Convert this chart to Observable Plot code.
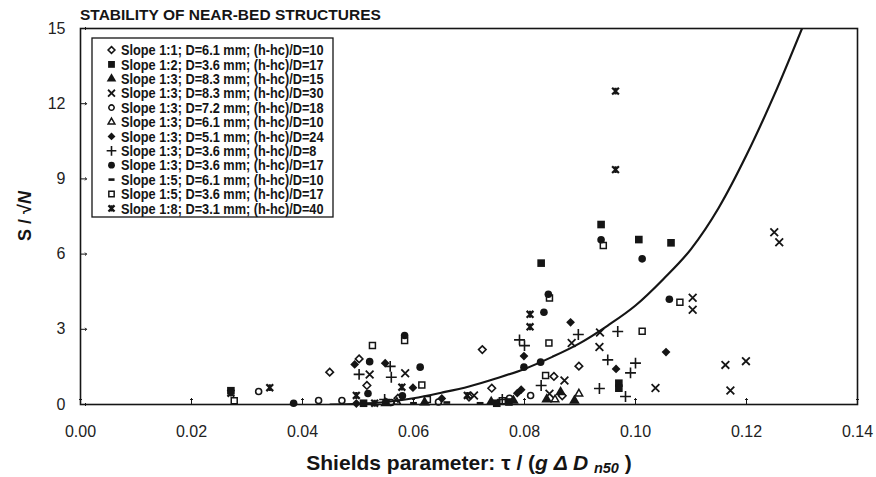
<!DOCTYPE html>
<html><head><meta charset="utf-8">
<script src="https://cdn.jsdelivr.net/npm/d3@7"></script>
<script src="https://cdn.jsdelivr.net/npm/@observablehq/plot@0.6"></script>
<style>
body{margin:0;background:#fff;}
#chart{position:relative;width:876px;height:477px;}
</style></head><body><div id="chart"></div>
<script>
// ---------- data ----------
const seriesLabels = [
  "Slope 1:1; D=6.1 mm; (h-hc)/D=10",
  "Slope 1:2; D=3.6 mm; (h-hc)/D=17",
  "Slope 1:3; D=8.3 mm; (h-hc)/D=15",
  "Slope 1:3; D=8.3 mm; (h-hc)/D=30",
  "Slope 1:3; D=7.2 mm; (h-hc)/D=18",
  "Slope 1:3; D=6.1 mm; (h-hc)/D=10",
  "Slope 1:3; D=5.1 mm; (h-hc)/D=24",
  "Slope 1:3; D=3.6 mm; (h-hc)/D=8",
  "Slope 1:3; D=3.6 mm; (h-hc)/D=17",
  "Slope 1:5; D=6.1 mm; (h-hc)/D=10",
  "Slope 1:5; D=3.6 mm; (h-hc)/D=17",
  "Slope 1:8; D=3.1 mm; (h-hc)/D=40"
];
// open diamond
const s1x = [0.0449,0.0502,0.0516,0.0724,0.0741,0.0853,0.0898,0.0572,0.0700,0.0868];
const s1y = [1.29,1.82,0.76,2.19,0.65,1.12,1.53,0.25,0.30,0.35];
// filled square
const s2x = [0.0271,0.0830,0.0938,0.1006,0.1064,0.0970,0.0970,0.0510,0.0750,0.0772];
const s2y = [0.55,5.64,7.18,6.58,6.45,0.85,0.65,0.05,0.05,0.10];
// filled triangle
const s3x = [0.0865,0.0740,0.0780,0.0840,0.0890,0.0550,0.0620];
const s3y = [0.49,0.10,0.15,0.20,0.15,0.05,0.08];
// x cross
const s4x = [0.0521,0.0585,0.0709,0.0845,0.0872,0.0885,0.0935,0.0936,0.1036,0.1103,0.1103,0.1162,0.1171,0.1199,0.1250,0.1259];
const s4y = [1.20,1.25,0.36,0.43,0.96,2.45,2.29,2.87,0.66,4.26,3.78,1.58,0.56,1.73,6.87,6.47];
// open circle
const s5x = [0.0321,0.0429,0.0471,0.0645,0.0773,0.0811,0.0560];
const s5y = [0.52,0.16,0.16,0.10,0.25,0.36,0.08];
// open triangle
const s6x = [0.0898,0.0855,0.0570];
const s6y = [0.43,0.20,0.10];
// filled diamond
const s7x = [0.0494,0.0549,0.0599,0.0651,0.0787,0.0794,0.0799,0.0883,0.0965,0.1055,0.0497];
const s7y = [1.60,1.65,0.67,0.24,0.45,0.59,1.93,3.28,1.42,2.09,0.04];
// plus
const s8x = [0.0502,0.0558,0.0560,0.0791,0.0800,0.0830,0.0897,0.0935,0.0950,0.0968,0.0982,0.0991,0.1000,0.0548,0.0760];
const s8y = [1.20,1.52,1.09,2.58,2.35,0.76,2.79,0.64,1.78,2.91,0.32,1.26,1.65,0.20,0.20];
// filled circle
const s9x = [0.0384,0.0518,0.0521,0.0584,0.0612,0.0799,0.0829,0.0835,0.0843,0.0938,0.1012,0.1061,0.0550,0.0580];
const s9y = [0.05,0.44,1.71,2.75,1.49,1.49,1.69,3.68,4.40,6.57,5.81,4.20,0.10,0.35];
// dash
const s10x = [0.0600,0.0660,0.0720];
const s10y = [0.05,0.08,0.05];
// open square
const s11x = [0.0277,0.0526,0.0584,0.0615,0.0760,0.0838,0.0844,0.0845,0.0942,0.1012,0.1080,0.0625];
const s11y = [0.15,2.35,2.55,0.78,0.15,1.16,2.45,4.25,6.34,2.92,4.08,0.20];
// bowtie star
const s12x = [0.0271,0.0341,0.0497,0.0579,0.0697,0.0810,0.0810,0.0964,0.0964,0.0530];
const s12y = [0.45,0.67,0.36,0.69,0.36,3.60,3.10,9.37,12.50,0.05];

// fitted curve as drawn in the figure
const curveX = [0.045,0.050,0.055,0.060,0.065,0.070,0.075,0.080,0.085,0.090,0.095,0.100,0.105,0.110,0.115,0.120,0.125,0.130];
const curveY = [0.00,0.03,0.10,0.25,0.47,0.72,1.05,1.42,1.90,2.45,3.15,3.95,5.00,6.20,7.85,9.95,12.35,15.00];

const xTicks = [0,0.02,0.04,0.06,0.08,0.10,0.12,0.14];
const yTicks = [0,3,6,9,12,15];

// ---------- symbols ----------
const ink = "#151515";
const bowtie = {draw(ctx, size){const r=Math.sqrt(size/Math.PI);ctx.moveTo(-r,-r);ctx.lineTo(r,r);ctx.moveTo(r,-r);ctx.lineTo(-r,r);ctx.moveTo(0,-r);ctx.lineTo(0,r);}};
const dash = {draw(ctx, size){const r=Math.sqrt(size/Math.PI);ctx.moveTo(-r,0);ctx.lineTo(r,0);}};
const rhomb = {draw(ctx, size){const r=Math.sqrt(size/Math.PI)*1.1;ctx.moveTo(0,-r);ctx.lineTo(r,0);ctx.lineTo(0,r);ctx.lineTo(-r,0);ctx.closePath();}};
const styles = [
  {symbol:"diamond2", fill:"none", stroke:ink, strokeWidth:1.6, r:3.4},
  {symbol:"square", fill:ink, r:4.3},
  {symbol:"triangle", fill:ink, r:4.0},
  {symbol:"times", fill:"none", stroke:ink, strokeWidth:1.8, r:3.6},
  {symbol:"circle", fill:"none", stroke:ink, strokeWidth:1.6, r:3.0},
  {symbol:"triangle2", fill:"none", stroke:ink, strokeWidth:1.5, r:3.6},
  {symbol:rhomb, fill:ink, r:4.0},
  {symbol:"plus", fill:"none", stroke:ink, strokeWidth:1.6, r:3.6},
  {symbol:"circle", fill:ink, r:3.8},
  {symbol:dash, fill:"none", stroke:ink, strokeWidth:2.6, r:3.4},
  {symbol:"square2", fill:"none", stroke:ink, strokeWidth:1.5, r:3.8},
  {symbol:bowtie, fill:"none", stroke:ink, strokeWidth:2.2, r:3.4}
];
const xsAll = [s1x,s2x,s3x,s4x,s5x,s6x,s7x,s8x,s9x,s10x,s11x,s12x];
const ysAll = [s1y,s2y,s3y,s4y,s5y,s6y,s7y,s8y,s9y,s10y,s11y,s12y];
const curveData = curveX.map((x,i)=>({x, y:curveY[i]}));

const dotMarks = xsAll.map((xs,k)=>{
  const data = xs.map((x,i)=>({x, y:ysAll[k][i]}));
  const st = styles[k];
  return Plot.dot(data, {x:"x", y:"y", symbol:()=>st.symbol, r:st.r, fill:st.fill, stroke:st.stroke||"none", strokeWidth:st.strokeWidth||0});
});

const sans = "'Liberation Sans',Arial,sans-serif";

const chart = Plot.plot({
  width:876, height:477,
  marginTop:28, marginRight:19, marginBottom:73, marginLeft:80,
  style:{fontFamily:sans, background:"#fff", color:ink},
  symbol:{type:"identity"},
  x:{domain:[0,0.14]},
  y:{domain:[0,15]},
  marks:[
    Plot.axisX({ticks:xTicks, tickFormat:d3.format(".2f"), tickSize:0, tickPadding:21, label:null, fontSize:16, fill:"#222"}),
    Plot.axisY({ticks:yTicks, tickSize:0, tickPadding:15, label:null, fontSize:16, fill:"#222"}),
    Plot.vector(xTicks, {x:d=>d, frameAnchor:"bottom", length:6, rotate:0, anchor:"start", stroke:ink, strokeWidth:1}),
    Plot.vector(yTicks, {y:d=>d, frameAnchor:"left", length:6, rotate:90, anchor:"start", stroke:ink, strokeWidth:1}),
    Plot.line(curveData, {x:"x", y:"y", curve:"monotone-x", stroke:ink, strokeWidth:2.2, clip:true}),
    ...dotMarks,
    Plot.frame({stroke:ink, strokeWidth:1.6})
  ]
});
document.getElementById("chart").appendChild(chart);

// ---------- titles and legend ----------
const svg = d3.select(chart);
svg.append("text").attr("x",80).attr("y",20).attr("text-anchor","start").attr("font-family",sans).attr("font-weight","bold")
  .attr("font-size",15.5).attr("fill",ink).text("STABILITY OF NEAR-BED STRUCTURES");

const yl = svg.append("text").attr("transform","translate(31,216) rotate(-90)").attr("text-anchor","middle")
  .attr("font-family",sans).attr("font-weight","bold").attr("font-size",18).attr("fill",ink);
yl.append("tspan").text("S / √");
yl.append("tspan").attr("font-style","italic").text("N");

const xl = svg.append("text").attr("x",469).attr("y",470).attr("text-anchor","middle")
  .attr("font-family",sans).attr("font-weight","bold").attr("font-size",21).attr("fill",ink);
xl.append("tspan").text("Shields parameter: τ / (");
xl.append("tspan").attr("font-style","italic").text("g Δ D ");
xl.append("tspan").attr("font-style","italic").attr("font-size",14.5).attr("dy",3).text("n50");
xl.append("tspan").attr("dy",-3).text(" )");

const lg = svg.append("g");
lg.append("rect").attr("x",92).attr("y",38).attr("width",241).attr("height",179)
  .attr("fill","#fff").attr("stroke",ink).attr("stroke-width",1.3);
seriesLabels.forEach((lab,i)=>{
  const cy = 50 + i*14.4;
  const st = styles[i];
  const size = Math.PI*st.r*st.r*0.8;
  lg.append("path").attr("transform",`translate(111.5,${cy})`)
    .attr("d", d3.symbol(typeof st.symbol==="string" ? {
      diamond2:d3.symbolDiamond2, square:d3.symbolSquare, triangle:d3.symbolTriangle, times:d3.symbolTimes,
      circle:d3.symbolCircle, triangle2:d3.symbolTriangle2, diamond:d3.symbolDiamond, plus:d3.symbolPlus,
      square2:d3.symbolSquare2}[st.symbol] : st.symbol, size)())
    .attr("fill",st.fill).attr("stroke",st.stroke||"none").attr("stroke-width",st.strokeWidth||0);
  lg.append("text").attr("transform",`translate(121,${cy}) scale(0.88,1)`).attr("dy","0.36em").attr("text-anchor","start")
    .attr("font-family",sans).attr("font-weight","bold").attr("font-size",14.5).attr("fill",ink).text(lab);
});
</script></body></html>
